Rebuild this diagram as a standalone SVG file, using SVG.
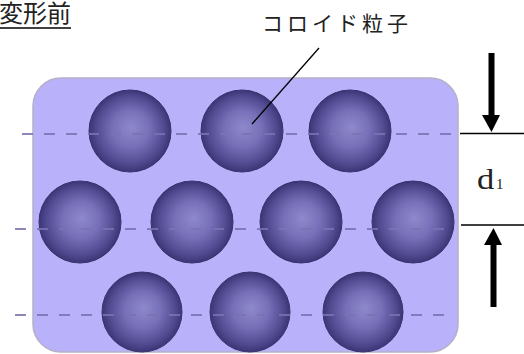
<svg xmlns="http://www.w3.org/2000/svg" width="524" height="354" viewBox="0 0 524 354">
  <style>
    .jp { font-family: "Liberation Serif", "Noto Sans CJK JP", serif; fill: #222; }
    .serif { font-family: "Liberation Serif", "DejaVu Serif", serif; fill: #222; }
    .dash { stroke: #7a72b0; stroke-width: 2; stroke-dasharray: 11 11; fill: none; opacity: 0.85; }
    .line { stroke: #000; stroke-width: 1.3; fill: none; }
    .ball { fill: url(#ballShade); stroke: #38336e; stroke-width: 1; }
  </style>
  <defs>
    <radialGradient id="ballShade" cx="0.5" cy="0.5" r="0.5" fx="0.52" fy="0.45">
      <stop offset="0" stop-color="#8e88cc"/>
      <stop offset="0.45" stop-color="#7770b8"/>
      <stop offset="0.8" stop-color="#544d94"/>
      <stop offset="1" stop-color="#3b3676"/>
    </radialGradient>
  </defs>

  <rect width="524" height="354" fill="#ffffff"/>

  <!-- title -->
  <g id="title">
    <text class="jp" x="-1" y="22" font-size="24">変形前</text>
    <line x1="0" y1="28" x2="71" y2="28" stroke="#000" stroke-width="1.5"/>
  </g>

  <!-- medium -->
  <g id="medium">
    <rect x="33" y="78" width="425" height="274" rx="28" ry="28" fill="#bab1fb" stroke="#b4b0c8" stroke-width="1.5"/>
  </g>

  <!-- particles -->
  <g id="particles">
    <circle class="ball" cx="130" cy="131" r="41"/>
    <circle class="ball" cx="242" cy="131" r="41"/>
    <circle class="ball" cx="350" cy="131" r="41"/>
    <circle class="ball" cx="80" cy="222" r="41"/>
    <circle class="ball" cx="192" cy="222" r="41"/>
    <circle class="ball" cx="301" cy="222" r="41"/>
    <circle class="ball" cx="413" cy="222" r="41"/>
    <circle class="ball" cx="142" cy="312" r="40"/>
    <circle class="ball" cx="250" cy="312" r="40"/>
    <circle class="ball" cx="363" cy="312" r="40"/>
  </g>

  <!-- layer guides -->
  <g id="guides">
    <line class="dash" x1="22" y1="134" x2="460" y2="134"/>
    <line class="dash" x1="15" y1="229" x2="452" y2="229" stroke-dasharray="4 10 11 11 11 11 11 11 11 11 11 11 11 11 11 11 11 11 11 11 11 11 11 11 11 11 11 11 11 11 11 11 11 11 11 11 11 11 11 11 11 11 11 11"/>
    <line class="dash" x1="15" y1="315" x2="452" y2="315" stroke-dasharray="4 10 11 11 11 11 11 11 11 11 11 11 11 11 11 11 11 11 11 11 11 11 11 11 11 11 11 11 11 11 11 11 11 11 11 11 11 11 11 11 11 11 11 11"/>
  </g>

  <!-- label -->
  <g id="label">
    <text class="jp" x="262" y="31" font-size="21" letter-spacing="4">コロイド粒子</text>
  </g>

  <!-- connectors -->
  <g id="connectors">
    <line class="line" x1="319" y1="48" x2="252" y2="124"/>
    <line class="line" x1="460" y1="133.5" x2="524" y2="133.5"/>
    <line class="line" x1="461" y1="225" x2="524" y2="225"/>
    <!-- downward arrow -->
    <rect x="488.5" y="53" width="6" height="64" fill="#000"/>
    <polygon points="482,115 500,115 491.5,132" fill="#000"/>
    <!-- upward arrow -->
    <rect x="490.5" y="243" width="6" height="64" fill="#000"/>
    <polygon points="484,245 502,245 493.5,228" fill="#000"/>
  </g>

  <!-- spacing label -->
  <g id="spacing">
    <text class="serif" transform="translate(477 189) scale(1.15 1)" font-size="30">d</text>
    <text class="serif" x="496" y="189" font-size="15">1</text>
  </g>
</svg>
